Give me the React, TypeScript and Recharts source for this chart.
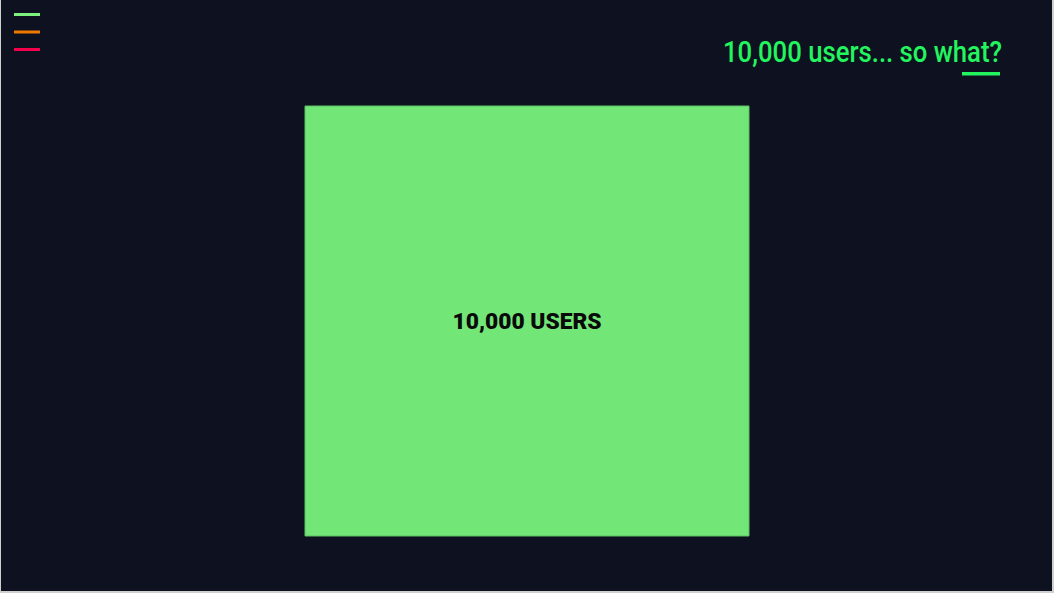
import React from "react";
import { BarChart, Bar, XAxis, YAxis, LabelList } from "recharts";

const categories = ["users"];
const userCounts = [10000];
const barLabels = ["10,000 USERS"];
const titleText = "10,000 users... so what?";
const menuColors = ["#7ef27f", "#f07a00", "#f5004a"];

const data = categories.map((c, i) => ({ name: c, value: userCounts[i], label: barLabels[i] }));

const CenterLabel = (props: any) => {
  const { x, y, width, height, value } = props;
  return (
    <text
      x={x + width / 2}
      y={y + height / 2 + 8}
      textAnchor="middle"
      fill="#0a0a0a"
      fontFamily="Roboto, sans-serif"
      fontWeight={900}
      fontSize={22}
      textLength={149}
      lengthAdjust="spacingAndGlyphs"
    >
      {value}
    </text>
  );
};

export default function App() {
  return (
    <div
      style={{
        position: "absolute",
        left: 0,
        top: 0,
        width: 1054,
        height: 593,
        background: "#0e1120",
        boxSizing: "border-box",
        borderLeft: "1px solid #cfcfcf",
        borderRight: "2px solid #cfcfcf",
        borderBottom: "2px solid #cfcfcf",
        overflow: "hidden",
      }}
    >
      <div style={{ position: "absolute", left: -1, top: 0 }}>
        <BarChart
          width={1054}
          height={593}
          data={data}
          margin={{ top: 106, right: 305, bottom: 57, left: 305 }}
          barCategoryGap={0}
        >
          <XAxis dataKey="name" hide />
          <YAxis hide domain={[0, 10000]} />
          <Bar
            dataKey="value"
            fill="#72e677"
            stroke="#5cc062"
            strokeWidth={1}
            isAnimationActive={false}
          >
            <LabelList dataKey="label" content={CenterLabel} />
          </Bar>
        </BarChart>
      </div>
      <svg
        width={1054}
        height={593}
        style={{ position: "absolute", left: -1, top: 0, pointerEvents: "none" }}
      >
        {menuColors.map((c, i) => (
          <rect key={i} x={14} y={13 + i * 17.5} width={26} height={3} fill={c} />
        ))}
        <text
          x={723}
          y={62}
          fill="#22f55e"
          fontFamily="Roboto, sans-serif"
          fontWeight={500}
          fontSize={30}
          textLength={279}
          lengthAdjust="spacingAndGlyphs"
        >
          {titleText}
        </text>
        <rect x={962} y={72} width={38} height={3.5} fill="#22f55e" />
      </svg>
    </div>
  );
}
